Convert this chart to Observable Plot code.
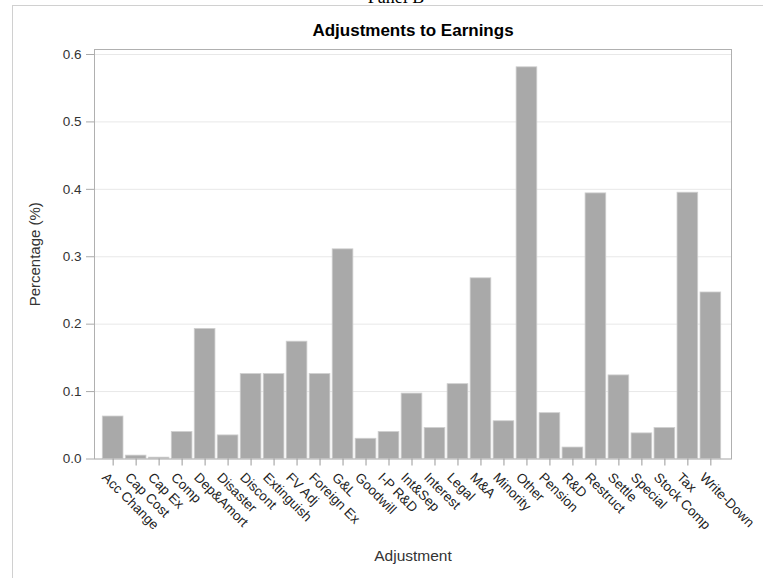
<!DOCTYPE html>
<html>
<head>
<meta charset="utf-8">
<script src="https://cdn.jsdelivr.net/npm/d3@7"></script>
<script src="https://cdn.jsdelivr.net/npm/@observablehq/plot@0.6"></script>
<style>
  html, body { margin: 0; padding: 0; background: #fff; overflow: hidden; }
  #page { position: relative; width: 763px; height: 578px; overflow: hidden; }
  #border { position: absolute; left: 12px; top: 5px; width: 820px; height: 700px; border: 1px solid #d0d0d0; box-sizing: border-box; }
  #panel { position: absolute; left: 296px; width: 200px; top: -12px; text-align: center; font-family: "Liberation Serif", "Times New Roman", serif; font-size: 18px; line-height: 18px; color: #000; }
  #chart { position: absolute; left: 0; top: 0; }
</style>
</head>
<body>
<div id="page">
  <div id="border"></div>
  <div id="panel">Panel B</div>
  <div id="chart"></div>
</div>
<script>
const categories = ["Acc Change","Cap Cost","Cap Ex","Comp","Dep&Amort","Disaster","Discont","Extinguish","FV Adj","Foreign Ex","G&L","Goodwill","I-P R&D","Int&Sep","Interest","Legal","M&A","Minority","Other","Pension","R&D","Restruct","Settle","Special","Stock Comp","Tax","Write-Down"];
const values = [0.063,0.005,0.002,0.040,0.193,0.035,0.126,0.126,0.174,0.126,0.311,0.030,0.040,0.097,0.046,0.111,0.268,0.056,0.581,0.068,0.017,0.394,0.124,0.038,0.046,0.395,0.247];
const yTicks = [0,0.1,0.2,0.3,0.4,0.5,0.6];
const title = "Adjustments to Earnings";
const xLabel = "Adjustment";
const yLabel = "Percentage (%)";

const data = categories.map((c, i) => ({adjustment: c, pct: values[i]}));

const chart = Plot.plot({
  width: 763,
  height: 578,
  marginTop: 49,
  marginBottom: 119.5,
  marginLeft: 94,
  marginRight: 32,
  style: {fontFamily: "'Liberation Sans', Arial, sans-serif", fontSize: "13px", color: "#333", background: "transparent", overflow: "visible"},
  x: {domain: categories, padding: 0.1, insetLeft: 6, insetRight: 8, round: false},
  y: {domain: [0, 0.6], insetTop: 5},
  marks: [
    Plot.gridY(yTicks, {stroke: "#e8e8e8", strokeOpacity: 1}),
    Plot.barY(data, {x: "adjustment", y: "pct", fill: "#a9a9a9", stroke: "#cfcfcf", strokeWidth: 0.8}),
    Plot.frame({stroke: "#b0b0b0"}),
    Plot.axisY(yTicks, {tickFormat: d3.format(".1f"), tickSize: 8, tickPadding: 5, stroke: "#aaa", fill: "#333", fontSize: 13.5, label: null}),
    Plot.axisX({tickSize: 7, tickFormat: () => "", stroke: "#999", label: null}),
    Plot.text(categories, {x: d => d, y: () => 0, rotate: 45, textAnchor: "start", lineAnchor: "top", dx: -5, dy: 12.5, fontSize: 13.5, fill: "#222"}),
    Plot.text([title], {frameAnchor: "top", dy: -26, fontSize: 17, fontWeight: "bold", fill: "#000"}),
    Plot.text([xLabel], {frameAnchor: "bottom", dy: 102, fontSize: 15.5, fill: "#333"}),
    Plot.text([yLabel], {frameAnchor: "left", rotate: -90, textAnchor: "middle", dx: -59, fontSize: 15, fill: "#333"})
  ]
});
document.getElementById("chart").appendChild(chart);
</script>
</body>
</html>
